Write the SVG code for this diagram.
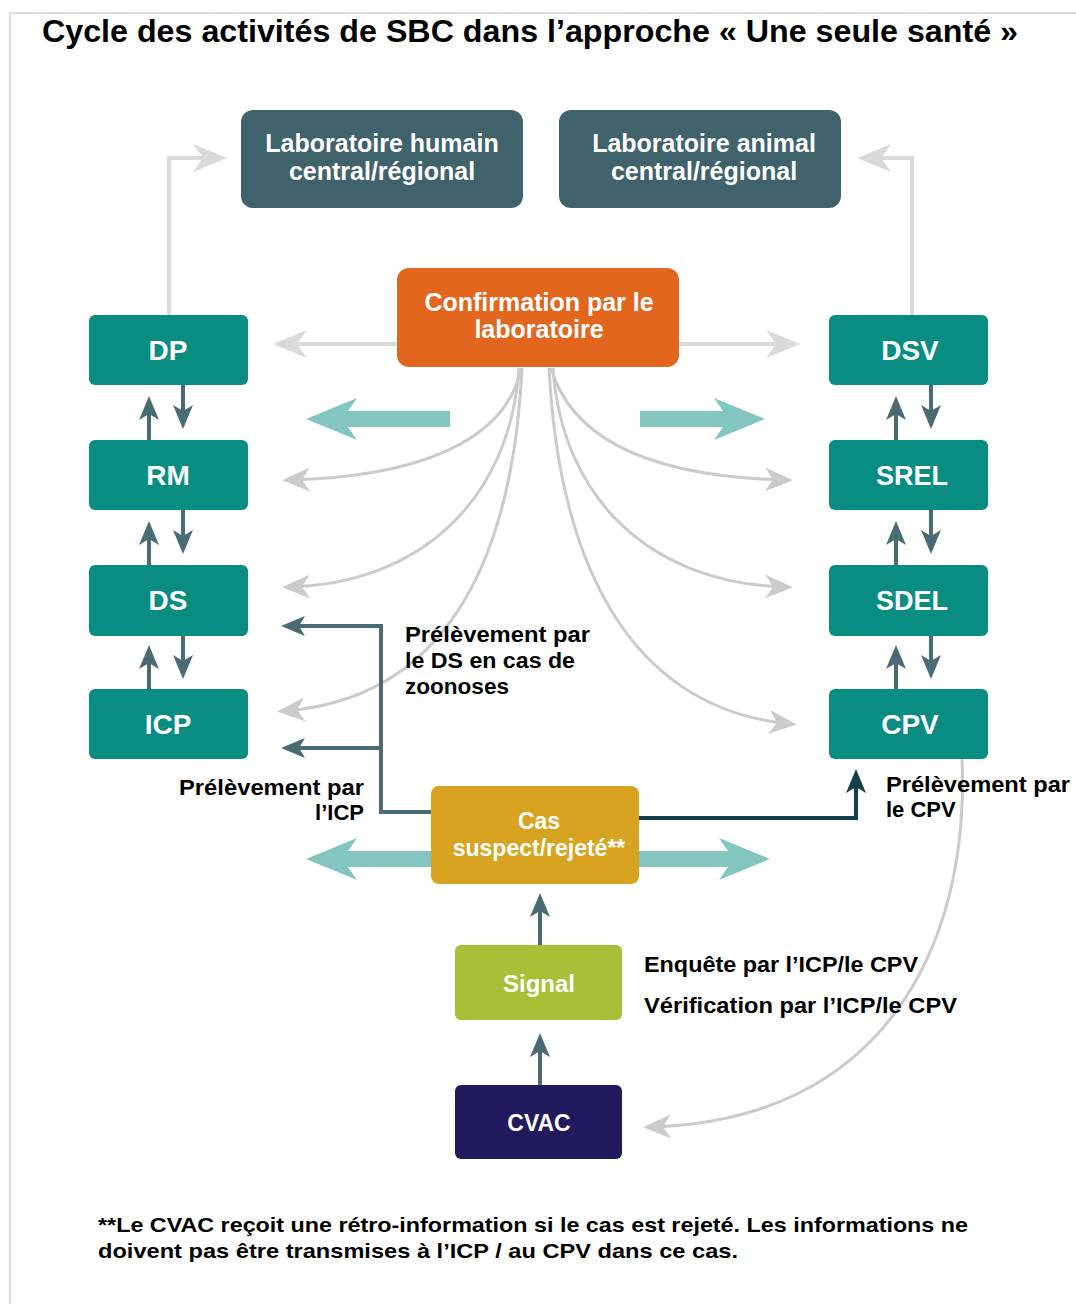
<svg xmlns="http://www.w3.org/2000/svg" width="1076" height="1304" viewBox="0 0 1076 1304">
<style>
text{font-family:"Liberation Sans",Arial,sans-serif;font-weight:bold}
.nt{fill:#fff;text-anchor:middle}
.lab{fill:#40626b}
.teal{fill:#098c82}
.lbl{fill:#000;font-size:22px}
.gl{fill:none;stroke:#dadada;stroke-width:4}
.gc{fill:none;stroke:#cbcbcb;stroke-width:3}
.dk{fill:none;stroke:#4b6b74;stroke-width:4}
.dk2{fill:none;stroke:#13404b;stroke-width:4}
.big{fill:#82c6bf}
</style>
<defs>
<marker id="mg" markerUnits="userSpaceOnUse" viewBox="-36 -20 44 40" refX="0" refY="0" markerWidth="44" markerHeight="40" orient="auto">
<path d="M6,0 L-28,-14 L-18,0 L-28,14 Z" fill="#dadada"/>
</marker>
<marker id="mc" markerUnits="userSpaceOnUse" viewBox="-36 -20 44 40" refX="0" refY="0" markerWidth="44" markerHeight="40" orient="auto">
<path d="M6,0 L-22,-12 L-14,0 L-22,12 Z" fill="#cbcbcb"/>
</marker>
<marker id="md" markerUnits="userSpaceOnUse" viewBox="-30 -16 38 32" refX="0" refY="0" markerWidth="38" markerHeight="32" orient="auto">
<path d="M6,0 L-18,-10 L-12,0 L-18,10 Z" fill="#4b6b74"/>
</marker>
<marker id="md2" markerUnits="userSpaceOnUse" viewBox="-30 -16 38 32" refX="0" refY="0" markerWidth="38" markerHeight="32" orient="auto">
<path d="M6,0 L-18,-10 L-12,0 L-18,10 Z" fill="#13404b"/>
</marker>
</defs>
<rect width="1076" height="1304" fill="#fff"/>
<path d="M10,1304 V13 H1076" fill="none" stroke="#dcdcdc" stroke-width="2"/>
<text x="42" y="42" font-size="31" textLength="976" lengthAdjust="spacingAndGlyphs" fill="#000">Cycle des activités de SBC dans l’approche « Une seule santé »</text>

<g id="connectors">
<path class="gl" d="M169,315 V158 H221" marker-end="url(#mg)"/>
<path class="gl" d="M912,315 V158 H863" marker-end="url(#mg)"/>
<path class="gl" d="M397,344 H279" marker-end="url(#mg)"/>
<path class="gl" d="M679,344 H794" marker-end="url(#mg)"/>
<path class="gc" d="M521,368 C507,440 420,477 288,480" marker-end="url(#mc)"/>
<path class="gc" d="M519,368 C510,500 420,584 288,587" marker-end="url(#mc)"/>
<path class="gc" d="M522,368 C512,570 440,700 283,711" marker-end="url(#mc)"/>
<path class="gc" d="M551,368 C572,440 652,477 787,480" marker-end="url(#mc)"/>
<path class="gc" d="M553,368 C562,500 652,584 787,587" marker-end="url(#mc)"/>
<path class="gc" d="M549,368 C560,580 640,710 791,724" marker-end="url(#mc)"/>
<path class="gc" d="M962,759 C970,950 880,1122 649,1127" marker-end="url(#mc)"/>
<polygon class="big" points="306,419 357,398 348,411 450,411 450,427 348,427 357,440"/>
<polygon class="big" points="765,419 714,398 723,411 640,411 640,427 723,427 714,440"/>
<polygon class="big" points="306,859 357,838 348,851 432,851 432,867 348,867 357,880"/>
<polygon class="big" points="770,859 719,838 728,851 638,851 638,867 728,867 719,880"/>
<path class="dk" d="M149,440 V402" marker-end="url(#md)"/>
<path class="dk" d="M183,385 V423" marker-end="url(#md)"/>
<path class="dk" d="M149,565 V527" marker-end="url(#md)"/>
<path class="dk" d="M183,510 V548" marker-end="url(#md)"/>
<path class="dk" d="M149,689 V651" marker-end="url(#md)"/>
<path class="dk" d="M183,636 V673" marker-end="url(#md)"/>
<path class="dk" d="M896,440 V402" marker-end="url(#md)"/>
<path class="dk" d="M931,385 V423" marker-end="url(#md)"/>
<path class="dk" d="M896,565 V527" marker-end="url(#md)"/>
<path class="dk" d="M931,510 V548" marker-end="url(#md)"/>
<path class="dk" d="M896,689 V651" marker-end="url(#md)"/>
<path class="dk" d="M931,636 V673" marker-end="url(#md)"/>
<path class="dk" d="M431,812 H381 V626 H287" marker-end="url(#md)"/>
<path class="dk" d="M381,748 H287" marker-end="url(#md)"/>
<path class="dk2" d="M639,818 H856 V775" marker-end="url(#md2)"/>
<path class="dk" d="M540,945 V899" marker-end="url(#md)"/>
<path class="dk" d="M540,1085 V1039" marker-end="url(#md)"/>
</g>

<g id="lab-humain">
<rect class="lab" x="241" y="110" width="282" height="98" rx="12"/>
<text class="nt" x="382" y="152" font-size="25">Laboratoire humain</text>
<text class="nt" x="382" y="180" font-size="25">central/régional</text>
</g>
<g id="lab-animal">
<rect class="lab" x="559" y="110" width="282" height="98" rx="12"/>
<text class="nt" x="704" y="152" font-size="25">Laboratoire animal</text>
<text class="nt" x="704" y="180" font-size="25">central/régional</text>
</g>
<g id="confirmation">
<rect x="397" y="268" width="282" height="99" rx="12" fill="#e3661f"/>
<text class="nt" x="539" y="311" font-size="25">Confirmation par le</text>
<text class="nt" x="539" y="338" font-size="25">laboratoire</text>
</g>
<g id="dp"><rect class="teal" x="89" y="315" width="159" height="70" rx="6"/><text class="nt" x="168" y="360" font-size="28">DP</text></g>
<g id="rm"><rect class="teal" x="89" y="440" width="159" height="70" rx="6"/><text class="nt" x="168" y="485" font-size="28">RM</text></g>
<g id="ds"><rect class="teal" x="89" y="565" width="159" height="71" rx="6"/><text class="nt" x="168" y="610" font-size="28">DS</text></g>
<g id="icp"><rect class="teal" x="89" y="689" width="159" height="70" rx="6"/><text class="nt" x="168" y="734" font-size="28">ICP</text></g>
<g id="dsv"><rect class="teal" x="829" y="315" width="159" height="70" rx="6"/><text class="nt" x="910" y="360" font-size="28">DSV</text></g>
<g id="srel"><rect class="teal" x="829" y="440" width="159" height="70" rx="6"/><text class="nt" x="912" y="485" font-size="27">SREL</text></g>
<g id="sdel"><rect class="teal" x="829" y="565" width="159" height="71" rx="6"/><text class="nt" x="912" y="610" font-size="27">SDEL</text></g>
<g id="cpv"><rect class="teal" x="829" y="689" width="159" height="70" rx="6"/><text class="nt" x="910" y="734" font-size="28">CPV</text></g>
<g id="cas">
<rect x="431" y="786" width="208" height="98" rx="8" fill="#d8a320"/>
<text class="nt" x="539" y="829" font-size="23">Cas</text>
<text class="nt" x="539" y="856" font-size="23">suspect/rejeté**</text>
</g>
<g id="signal"><rect x="455" y="945" width="167" height="75" rx="6" fill="#a9bf37"/><text class="nt" x="539" y="992" font-size="24">Signal</text></g>
<g id="cvac"><rect x="455" y="1085" width="167" height="74" rx="6" fill="#211a5e"/><text class="nt" x="539" y="1131" font-size="23">CVAC</text></g>

<g id="labels">
<text class="lbl" x="405" y="642" textLength="185" lengthAdjust="spacingAndGlyphs">Prélèvement par</text>
<text class="lbl" x="405" y="668" textLength="170" lengthAdjust="spacingAndGlyphs">le DS en cas de</text>
<text class="lbl" x="405" y="694" textLength="104" lengthAdjust="spacingAndGlyphs">zoonoses</text>
<text class="lbl" x="179" y="795" textLength="185" lengthAdjust="spacingAndGlyphs">Prélèvement par</text>
<text class="lbl" x="364" y="820" text-anchor="end">l’ICP</text>
<text class="lbl" x="886" y="792" textLength="184" lengthAdjust="spacingAndGlyphs">Prélèvement par</text>
<text class="lbl" x="886" y="817">le CPV</text>
<text class="lbl" x="644" y="972" textLength="274" lengthAdjust="spacingAndGlyphs">Enquête par l’ICP/le CPV</text>
<text class="lbl" x="644" y="1013" textLength="313" lengthAdjust="spacingAndGlyphs">Vérification par l’ICP/le CPV</text>
<text x="98" y="1232" font-size="21" textLength="870" lengthAdjust="spacingAndGlyphs" fill="#000">**Le CVAC reçoit une rétro-information si le cas est rejeté. Les informations ne</text>
<text x="98" y="1258" font-size="21" textLength="640" lengthAdjust="spacingAndGlyphs" fill="#000">doivent pas être transmises à l’ICP / au CPV dans ce cas.</text>
</g>
</svg>
